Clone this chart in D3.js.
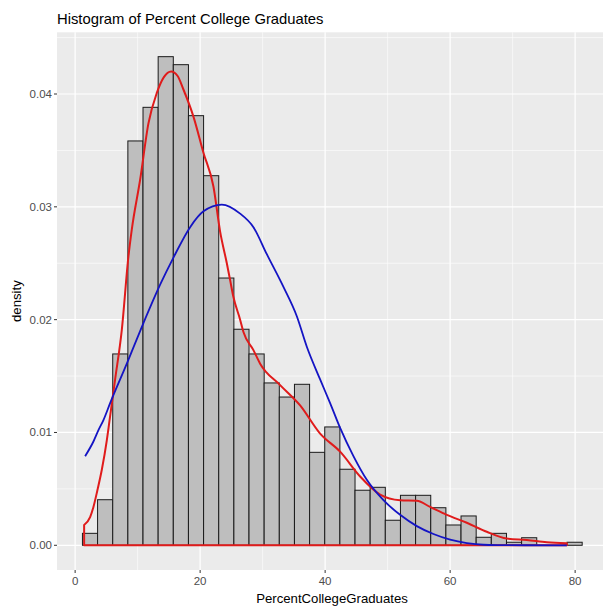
<!DOCTYPE html>
<html>
<head>
<meta charset="utf-8">
<script src="https://cdn.jsdelivr.net/npm/d3@7"></script>
<style>
  html, body { margin: 0; padding: 0; background: #fff; }
  svg { display: block; font-family: "Liberation Sans", Arial, sans-serif; }
</style>
</head>
<body>
<svg id="chart" width="603" height="607"></svg>
<script>
// Histogram bins (density per bin), equal widths
const binStart = 1.17;
const binWidth = 2.423;
const binDensity = [
  0.00106, 0.00404, 0.01696, 0.03584, 0.03882, 0.04331, 0.04260, 0.03808,
  0.03276, 0.02369, 0.01915, 0.01696, 0.01439, 0.01314, 0.01427, 0.00824,
  0.01049, 0.00674, 0.00488, 0.00514, 0.00222, 0.00443, 0.00443, 0.00333,
  0.00180, 0.00260, 0.00071, 0.00106, 0.00027, 0.00067, 0, 0, 0.00027
];

// Kernel density estimate (red)
const kdeX = [1.44, 2.4, 2.93, 3.57, 4.27, 5.07, 5.49, 6.4, 7.47, 8.53, 9.07, 10.4,
  11.73, 13.07, 14.2, 15.36, 16.4, 17.33, 18.93, 20.53, 22.13, 23.2, 24.27, 24.8,
  25.33, 26.4, 26.93, 28.53, 29.6, 32.8, 36, 39.2, 42.4, 45.6, 48.8, 52, 54.67,
  56.8, 59.47, 62.67, 65.87, 69.07, 72.27, 75.47, 78.67];
const kdeY = [0.0018, 0.0025, 0.0034, 0.0049, 0.0067, 0.0093, 0.0110, 0.0147, 0.0191,
  0.0256, 0.0280, 0.0324, 0.0374, 0.0401, 0.0415, 0.0420, 0.0416, 0.0404, 0.0380,
  0.0348, 0.0318, 0.0278, 0.0250, 0.0235, 0.0220, 0.0200, 0.0189, 0.0173, 0.0161,
  0.0142, 0.0124, 0.0099, 0.0083, 0.0061, 0.0045, 0.0040, 0.00395, 0.0034, 0.0027,
  0.0020, 0.0012, 0.0006, 0.00047, 0.00027, 0.00018];

// Normal density curve (blue)
const normX = [1.6, 2.93, 3.73, 4.53, 5.6, 8.27, 10.93, 13.6, 15.73, 18.4, 20.53, 23.47,
  26.4, 28.53, 30.67, 33.33, 35.47, 37.07, 39.2, 40.8, 42.4, 44.53, 46.67, 49.33,
  52, 54.67, 57.33, 60, 62.67, 65.33, 68, 72, 78.67];
const normY = [0.0079, 0.0092, 0.0102, 0.0111, 0.0126, 0.0161, 0.0197, 0.0231, 0.0255,
  0.0282, 0.0296, 0.0302, 0.0294, 0.0282, 0.0258, 0.0229, 0.0203, 0.0176, 0.0147,
  0.0126, 0.0104, 0.0079, 0.0058, 0.0040, 0.0027, 0.0017, 0.0010, 0.0005, 0.0002,
  0.00005, 0.00002, 0.000005, 0];

const xTicks = [0, 20, 40, 60, 80];
const xMinor = [10, 30, 50, 70];
const yTicks = [0, 0.01, 0.02, 0.03, 0.04];
const yMinor = [0.005, 0.015, 0.025, 0.035, 0.045];
const yTickLabels = ["0.00", "0.01", "0.02", "0.03", "0.04"];

const titleText = "Histogram of Percent College Graduates";
const xTitle = "PercentCollegeGraduates";
const yTitle = "density";

const svg = d3.select("#chart");
const panel = { left: 57, right: 607, top: 32.3, bottom: 570 };

const x = d3.scaleLinear().domain([-2.9, 85.1]).range([panel.left, panel.right]);
const y = d3.scaleLinear().domain([-0.00219, 0.04547]).range([panel.bottom, panel.top]);

// panel background
svg.append("rect")
  .attr("x", panel.left).attr("y", panel.top)
  .attr("width", panel.right - panel.left).attr("height", panel.bottom - panel.top)
  .attr("fill", "#ebebeb");

const grid = svg.append("g");
// minor grid
grid.selectAll(".xm").data(xMinor).join("line")
  .attr("x1", d => x(d)).attr("x2", d => x(d))
  .attr("y1", panel.top).attr("y2", panel.bottom)
  .attr("stroke", "#fff").attr("stroke-width", 0.6);
grid.selectAll(".ym").data(yMinor).join("line")
  .attr("y1", d => y(d)).attr("y2", d => y(d))
  .attr("x1", panel.left).attr("x2", panel.right)
  .attr("stroke", "#fff").attr("stroke-width", 0.6);
// major grid
grid.selectAll(".xM").data(xTicks).join("line")
  .attr("x1", d => x(d)).attr("x2", d => x(d))
  .attr("y1", panel.top).attr("y2", panel.bottom)
  .attr("stroke", "#fff").attr("stroke-width", 1.2);
grid.selectAll(".yM").data(yTicks).join("line")
  .attr("y1", d => y(d)).attr("y2", d => y(d))
  .attr("x1", panel.left).attr("x2", panel.right)
  .attr("stroke", "#fff").attr("stroke-width", 1.2);

// histogram bars
svg.append("g").selectAll("rect").data(binDensity).join("rect")
  .attr("x", (d, i) => x(binStart + i * binWidth))
  .attr("width", (d, i) => x(binStart + (i + 1) * binWidth) - x(binStart + i * binWidth))
  .attr("y", d => y(d))
  .attr("height", d => y(0) - y(d))
  .attr("fill", "#bebebe")
  .attr("stroke", "#1a1a1a")
  .attr("stroke-width", 1);

// density outline, closed along the baseline
const kde = kdeX.map((v, i) => [v, kdeY[i]]);
const kdeLine = d3.line().x(d => x(d[0])).y(d => y(d[1])).curve(d3.curveMonotoneX);
svg.append("path")
  .attr("d", kdeLine(kde) +
    `L${x(kdeX[kdeX.length - 1])},${y(0)}L${x(kdeX[0])},${y(0)}Z`)
  .attr("fill", "none")
  .attr("stroke", "#e01b1b")
  .attr("stroke-width", 2)
  .attr("stroke-linejoin", "round");

// normal curve
const norm = normX.map((v, i) => [v, normY[i]]);
svg.append("path")
  .attr("d", d3.line().x(d => x(d[0])).y(d => y(d[1])).curve(d3.curveMonotoneX)(norm))
  .attr("fill", "none")
  .attr("stroke", "#1414c4")
  .attr("stroke-width", 1.8);

// axes
const axisColor = "#333";
const labelColor = "#4d4d4d";
const yAxis = svg.append("g");
yAxis.selectAll("line").data(yTicks).join("line")
  .attr("x1", panel.left - 3).attr("x2", panel.left)
  .attr("y1", d => y(d)).attr("y2", d => y(d))
  .attr("stroke", axisColor).attr("stroke-width", 1);
yAxis.selectAll("text").data(yTicks).join("text")
  .attr("x", panel.left - 5).attr("y", d => y(d))
  .attr("dy", "0.35em").attr("text-anchor", "end")
  .attr("font-size", 11.5).attr("fill", labelColor)
  .text((d, i) => yTickLabels[i]);

const xAxis = svg.append("g");
xAxis.selectAll("line").data(xTicks).join("line")
  .attr("y1", panel.bottom).attr("y2", panel.bottom + 3)
  .attr("x1", d => x(d)).attr("x2", d => x(d))
  .attr("stroke", axisColor).attr("stroke-width", 1);
xAxis.selectAll("text").data(xTicks).join("text")
  .attr("x", d => x(d)).attr("y", panel.bottom + 15)
  .attr("text-anchor", "middle")
  .attr("font-size", 11.5).attr("fill", labelColor)
  .text(d => d);

// titles
svg.append("text")
  .attr("x", panel.left).attr("y", 24)
  .attr("font-size", 14.8).attr("fill", "#000")
  .text(titleText);
svg.append("text")
  .attr("x", (panel.left + panel.right) / 2).attr("y", 603)
  .attr("text-anchor", "middle").attr("font-size", 13.2).attr("fill", "#000")
  .text(xTitle);
svg.append("text")
  .attr("transform", `translate(21,${(panel.top + panel.bottom) / 2}) rotate(-90)`)
  .attr("text-anchor", "middle").attr("font-size", 13.2).attr("fill", "#000")
  .text(yTitle);
</script>
</body>
</html>
